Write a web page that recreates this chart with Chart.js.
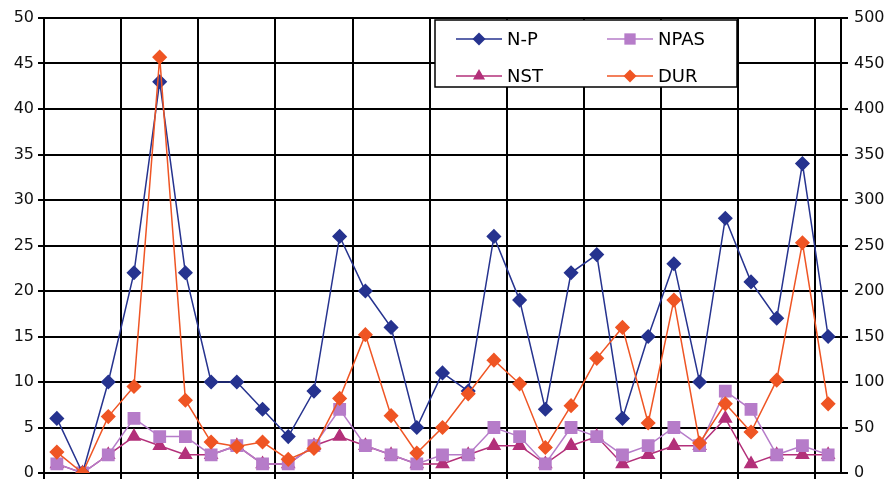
<!DOCTYPE html>
<html>
<head>
<meta charset="utf-8">
<script src="https://cdn.jsdelivr.net/npm/chart.js@4/dist/chart.umd.min.js"></script>
<style>
  html, body { margin: 0; padding: 0; background: #fff; }
  #wrap { width: 893px; height: 483px; position: relative; }
</style>
</head>
<body>
<div id="wrap"><canvas id="c" width="893" height="483"></canvas></div>
<script>
const categories = ['1','2','3','4','5','6','7','8','9','10','11','12','13','14','15','16','17','18','19','20','21','22','23','24','25','26','27','28','29','30','31'];
const np   = [6, 0, 10, 22, 43, 22, 10, 10, 7, 4, 9, 26, 20, 16, 5, 11, 9, 26, 19, 7, 22, 24, 6, 15, 23, 10, 28, 21, 17, 34, 15];
const npas = [1, 0, 2, 6, 4, 4, 2, 3, 1, 1, 3, 7, 3, 2, 1, 2, 2, 5, 4, 1, 5, 4, 2, 3, 5, 3, 9, 7, 2, 3, 2];
const nst  = [1, 0, 2, 4, 3, 2, 2, 3, 1, 1, 3, 4, 3, 2, 1, 1, 2, 3, 3, 1, 3, 4, 1, 2, 3, 3, 6, 1, 2, 2, 2];
const dur  = [23, 0, 62, 95, 457, 80, 34, 29, 34, 15, 27, 82, 152, 63, 22, 50, 87, 124, 98, 28, 74, 126, 160, 55, 190, 33, 76, 45, 102, 253, 76];
const leftTicks = [0, 5, 10, 15, 20, 25, 30, 35, 40, 45, 50];
const rightTicks = [0, 50, 100, 150, 200, 250, 300, 350, 400, 450, 500];

const seriesNames = ['N-P', 'NPAS', 'NST', 'DUR'];
const colNP = '#26338f', colNPAS = '#b67cc9', colNST = '#b3307a', colDUR = '#ef5524';

const legendPlugin = {
  id: 'boxLegend',
  afterDraw(chart) {
    const ctx = chart.ctx;
    const x0 = 435, y0 = 20, x1 = 737, y1 = 87;
    ctx.save();
    ctx.fillStyle = '#fff';
    ctx.fillRect(x0, y0, x1 - x0, y1 - y0);
    ctx.strokeStyle = '#000';
    ctx.lineWidth = 1.5;
    ctx.strokeRect(x0, y0, x1 - x0, y1 - y0);
    const items = [
      { ds: 0, lx: 456, ly: 39 },
      { ds: 1, lx: 607, ly: 39 },
      { ds: 2, lx: 456, ly: 76 },
      { ds: 3, lx: 607, ly: 76 }
    ];
    ctx.font = '18px "DejaVu Sans"';
    ctx.textBaseline = 'middle';
    ctx.textAlign = 'left';
    items.forEach(it => {
      const d = chart.data.datasets[it.ds];
      ctx.strokeStyle = d.borderColor;
      ctx.lineWidth = 1.5;
      ctx.beginPath();
      ctx.moveTo(it.lx, it.ly);
      ctx.lineTo(it.lx + 46, it.ly);
      ctx.stroke();
      ctx.fillStyle = d.pointBackgroundColor;
      ctx.beginPath();
      const r = d.pointRadius;
      const cx = it.lx + 23, cy = it.ly;
      if (d.pointStyle === 'rectRot') {
        ctx.moveTo(cx, cy - r); ctx.lineTo(cx + r, cy); ctx.lineTo(cx, cy + r); ctx.lineTo(cx - r, cy); ctx.closePath();
      } else if (d.pointStyle === 'rect') {
        const s = r * Math.SQRT1_2; ctx.rect(cx - s, cy - s, 2 * s, 2 * s);
      } else if (d.pointStyle === 'triangle') {
        ctx.moveTo(cx, cy - r); ctx.lineTo(cx + r * 0.866, cy + r / 2); ctx.lineTo(cx - r * 0.866, cy + r / 2); ctx.closePath();
      }
      ctx.fill();
      ctx.fillStyle = '#000';
      ctx.fillText(d.label, it.lx + 51, it.ly + 1);
    });
    ctx.restore();
  }
};

new Chart(document.getElementById('c'), {
  type: 'line',
  data: {
    labels: categories,
    datasets: [
      { label: seriesNames[0], data: np, yAxisID: 'y', borderColor: colNP, backgroundColor: colNP,
        pointBackgroundColor: colNP, pointBorderColor: colNP, pointStyle: 'rectRot', pointRadius: 6.5,
        borderWidth: 1.5, order: 1 },
      { label: seriesNames[1], data: npas, yAxisID: 'y', borderColor: colNPAS, backgroundColor: colNPAS,
        pointBackgroundColor: colNPAS, pointBorderColor: colNPAS, pointStyle: 'rect', pointRadius: 8,
        borderWidth: 1.5, order: 2 },
      { label: seriesNames[2], data: nst, yAxisID: 'y', borderColor: colNST, backgroundColor: colNST,
        pointBackgroundColor: colNST, pointBorderColor: colNST, pointStyle: 'triangle', pointRadius: 7,
        borderWidth: 1.5, order: 3 },
      { label: seriesNames[3], data: dur, yAxisID: 'y2', borderColor: colDUR, backgroundColor: colDUR,
        pointBackgroundColor: colDUR, pointBorderColor: colDUR, pointStyle: 'rectRot', pointRadius: 6.5,
        borderWidth: 1.5, order: 0 }
    ]
  },
  options: {
    responsive: false,
    animation: false,
    layout: { padding: { top: 18, left: 0, right: 0, bottom: 0 } },
    plugins: { legend: { display: false }, tooltip: { enabled: false } },
    elements: { line: { tension: 0 } },
    scales: {
      x: {
        type: 'category',
        offset: true,
        grid: {
          offset: true,
          color: (c) => (c.index !== undefined && c.index % 3 === 0) ? '#000' : 'rgba(0,0,0,0)',
          lineWidth: 2,
          drawTicks: true,
          tickLength: 6
        },
        border: { display: true, color: '#000', width: 2 },
        ticks: { display: false },
        afterFit: (s) => { s.height = 10; s.paddingLeft = 0; s.paddingRight = 0; }
      },
      y: {
        position: 'left',
        min: 0, max: 50,
        afterBuildTicks: (s) => { s.ticks = leftTicks.map(v => ({ value: v })); },
        grid: { color: '#000', lineWidth: 2, tickLength: 6 },
        border: { display: true, color: '#000', width: 2 },
        ticks: { font: { family: 'DejaVu Sans', size: 16 }, color: '#111', padding: 4 },
        afterFit: (s) => { s.width = 44; s.paddingTop = 0; s.paddingBottom = 0; }
      },
      y2: {
        position: 'right',
        min: 0, max: 500,
        afterBuildTicks: (s) => { s.ticks = rightTicks.map(v => ({ value: v })); },
        grid: { drawOnChartArea: false, color: '#000', lineWidth: 2, tickLength: 7 },
        border: { display: true, color: '#000', width: 2 },
        ticks: { font: { family: 'DejaVu Sans', size: 16 }, color: '#111', padding: 6 },
        afterFit: (s) => { s.width = 52; s.paddingTop = 0; s.paddingBottom = 0; }
      }
    }
  },
  plugins: [legendPlugin]
});
</script>
</body>
</html>
